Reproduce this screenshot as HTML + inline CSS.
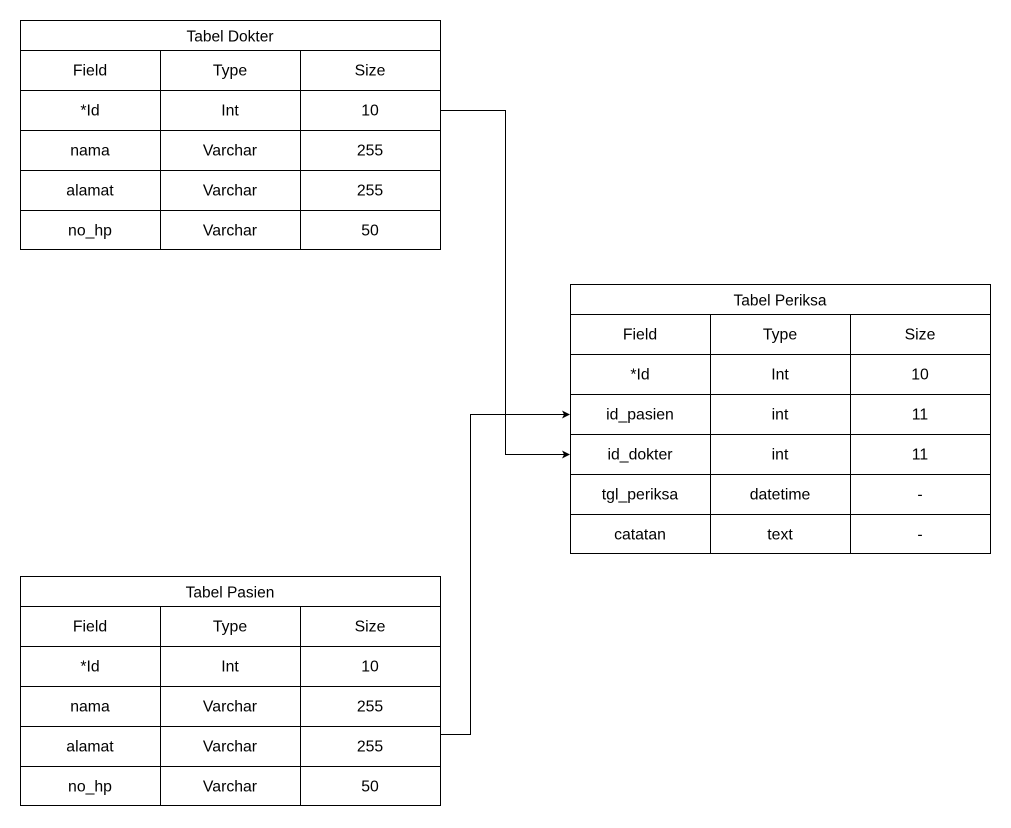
<!DOCTYPE html>
<html><head><meta charset="utf-8"><style>
html,body{margin:0;padding:0;background:#fff;}
svg{display:block}
text{font-family:"Liberation Sans",Arial,sans-serif;font-size:15.8px;fill:#000;text-anchor:middle;dominant-baseline:central}
.t{font-size:15.5px}
</style></head><body>
<svg width="1011" height="828" viewBox="0 0 1011 828" xmlns="http://www.w3.org/2000/svg">
<defs><marker id="a" markerWidth="8" markerHeight="8" refX="7" refY="4" orient="auto" markerUnits="userSpaceOnUse"><path d="M0,0 L8,4 L0,8 L2,4 Z" fill="#000"/></marker></defs>
<g fill="none" stroke="#000" stroke-width="1">
<rect x="20.5" y="20.5" width="420" height="229"/>
<path d="M20.5 50.5H440.5M20.5 90.5H440.5M20.5 130.5H440.5M20.5 170.5H440.5M20.5 210.5H440.5M160.5 50.5V249.5M300.5 50.5V249.5"/>
<rect x="570.5" y="284.5" width="420" height="269"/>
<path d="M570.5 314.5H990.5M570.5 354.5H990.5M570.5 394.5H990.5M570.5 434.5H990.5M570.5 474.5H990.5M570.5 514.5H990.5M710.5 314.5V553.5M850.5 314.5V553.5"/>
<rect x="20.5" y="576.5" width="420" height="229"/>
<path d="M20.5 606.5H440.5M20.5 646.5H440.5M20.5 686.5H440.5M20.5 726.5H440.5M20.5 766.5H440.5M160.5 606.5V805.5M300.5 606.5V805.5"/>
<path d="M440.5 110.5H505.5V454.5H569" marker-end="url(#a)"/>
<path d="M440.5 734.5H470.5V414.5H569" marker-end="url(#a)"/>
</g>
<g transform="translate(0,1)">
<text class="t" x="230" y="36">Tabel Dokter</text>
<text x="90" y="70">Field</text><text x="230" y="70">Type</text><text x="370" y="70">Size</text>
<text x="90" y="110">*Id</text><text x="230" y="110">Int</text><text x="370" y="110">10</text>
<text x="90" y="150">nama</text><text x="230" y="150">Varchar</text><text x="370" y="150">255</text>
<text x="90" y="190">alamat</text><text x="230" y="190">Varchar</text><text x="370" y="190">255</text>
<text x="90" y="230">no_hp</text><text x="230" y="230">Varchar</text><text x="370" y="230">50</text>

<text class="t" x="780" y="300">Tabel Periksa</text>
<text x="640" y="334">Field</text><text x="780" y="334">Type</text><text x="920" y="334">Size</text>
<text x="640" y="374">*Id</text><text x="780" y="374">Int</text><text x="920" y="374">10</text>
<text x="640" y="414">id_pasien</text><text x="780" y="414">int</text><text x="920" y="414">11</text>
<text x="640" y="454">id_dokter</text><text x="780" y="454">int</text><text x="920" y="454">11</text>
<text x="640" y="494">tgl_periksa</text><text x="780" y="494">datetime</text><text x="920" y="494">-</text>
<text x="640" y="534">catatan</text><text x="780" y="534">text</text><text x="920" y="534">-</text>

<text class="t" x="230" y="592">Tabel Pasien</text>
<text x="90" y="626">Field</text><text x="230" y="626">Type</text><text x="370" y="626">Size</text>
<text x="90" y="666">*Id</text><text x="230" y="666">Int</text><text x="370" y="666">10</text>
<text x="90" y="706">nama</text><text x="230" y="706">Varchar</text><text x="370" y="706">255</text>
<text x="90" y="746">alamat</text><text x="230" y="746">Varchar</text><text x="370" y="746">255</text>
<text x="90" y="786">no_hp</text><text x="230" y="786">Varchar</text><text x="370" y="786">50</text>
</g>
</svg>
</body></html>
